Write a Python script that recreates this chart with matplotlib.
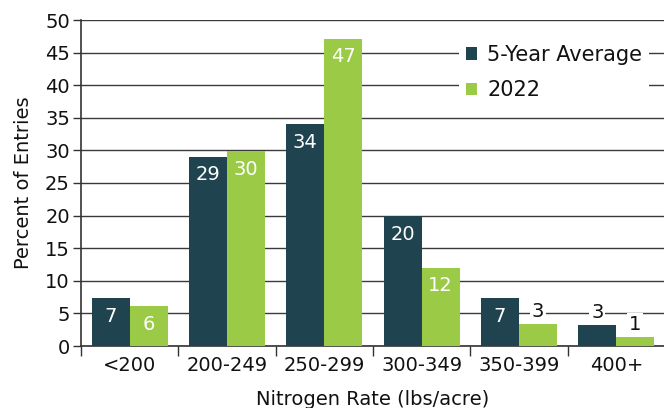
import matplotlib
matplotlib.use("Agg")
import matplotlib.pyplot as plt
import numpy as np

categories = ["<200", "200-249", "250-299", "300-349", "350-399", "400+"]
avg5 = [7.3, 29.0, 34.0, 19.9, 7.3, 3.2]
y2022 = [6.1, 29.9, 47.1, 12.0, 3.4, 1.4]
avg5_labels = ["7", "29", "34", "20", "7", "3"]
y2022_labels = ["6", "30", "47", "12", "3", "1"]

DARK = "#1f4450"
GREEN = "#9bcb46"
TXT = "#111111"

plt.rcParams['font.family'] = ['DejaVu Sans']
FS = 14

fig = plt.figure(figsize=(6.64, 4.08), dpi=100)
ax = fig.add_axes([81/664, 1 - 346/408, (665-81)/664, (346-20)/408])

x = np.arange(len(categories))
w = 0.39
b1 = ax.bar(x - w/2, avg5, w, color=DARK, label="5-Year Average", zorder=3)
b2 = ax.bar(x + w/2, y2022, w, color=GREEN, label="2022", zorder=3)

def label(bars, labels):
    for rect, lab in zip(bars, labels):
        h = rect.get_height()
        cx = rect.get_x() + rect.get_width()/2
        if h >= 5:
            ax.annotate(lab, (cx, h), xytext=(0, -13), textcoords="offset points",
                        ha="center", va="center", color="white", fontsize=FS, zorder=5)
        else:
            ax.annotate(lab, (cx, h), xytext=(0, 2), textcoords="offset points",
                        ha="center", va="bottom", color=TXT, fontsize=FS, zorder=5,
                        bbox=dict(boxstyle="square,pad=0.1", fc="white", ec="none"))

label(b1, avg5_labels)
label(b2, y2022_labels)

ax.set_xlim(-0.5, len(categories) - 0.5)
ax.set_ylim(0, 50)
ax.set_yticks(np.arange(0, 51, 5))
ax.yaxis.grid(True, color="#3a3a3a", linewidth=1, zorder=0)
ax.set_axisbelow(True)

ax.set_xticks(np.arange(-0.5, len(categories), 1.0))
ax.set_xticklabels([])
ax.set_xticks(x, minor=True)
ax.set_xticklabels(categories, minor=True, fontsize=FS, color=TXT)
ax.tick_params(axis="x", which="minor", length=0, pad=7)
ax.tick_params(axis="x", which="major", length=7, width=1, color="#333333")
ax.tick_params(axis="y", length=6, width=1, color="#333333", labelsize=FS, labelcolor=TXT, pad=2)

for s in ["top", "right"]:
    ax.spines[s].set_visible(False)
for s in ["left", "bottom"]:
    ax.spines[s].set_color("#333333")
    ax.spines[s].set_linewidth(1.2)

ax.set_ylabel("Percent of Entries", fontsize=14, color=TXT, labelpad=9)
ax.set_xlabel("Nitrogen Rate (lbs/acre)", fontsize=14, color=TXT, labelpad=11)

leg = ax.legend(loc="upper right", bbox_to_anchor=(0.99, 0.975), frameon=True,
                fontsize=15, handlelength=0.55, handleheight=0.55, handletextpad=0.5,
                labelspacing=0.75, borderpad=0.3, fancybox=False)
leg.get_frame().set_facecolor("white")
leg.get_frame().set_edgecolor("none")
leg.get_frame().set_alpha(1)
for t in leg.get_texts():
    t.set_color(TXT)

fig.savefig("out.png", dpi=100)
